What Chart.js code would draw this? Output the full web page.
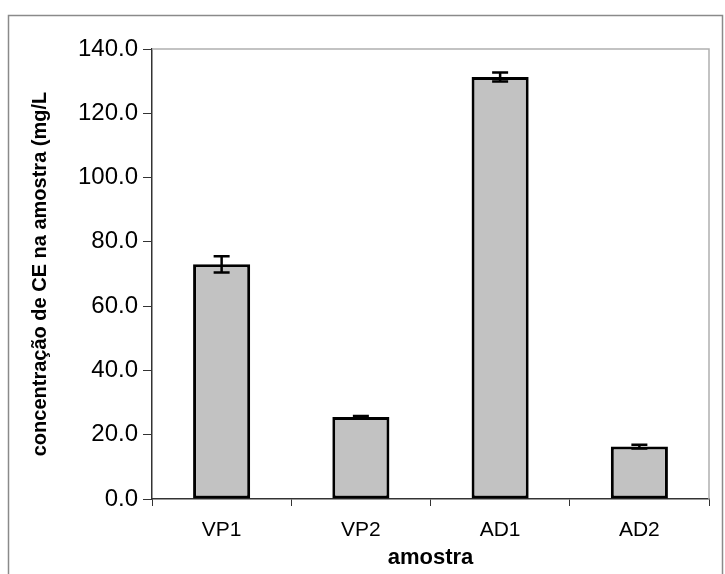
<!DOCTYPE html>
<html>
<head>
<meta charset="utf-8">
<script src="https://cdn.jsdelivr.net/npm/chart.js@4.4.1/dist/chart.umd.min.js"></script>
<style>
  html, body { margin: 0; padding: 0; background: #fff; }
  #wrap { width: 725px; height: 574px; }
</style>
</head>
<body>
<div id="wrap"><canvas id="chart" width="725" height="574"></canvas></div>
<script>
// Data
const samples = ['VP1', 'VP2', 'AD1', 'AD2'];
const concentration = [73.0, 25.5, 131.3, 16.3];
const errorValues = [2.5, 0.3, 1.4, 0.6];
const yTicks = [0, 20, 40, 60, 80, 100, 120, 140];

// Frame around the whole figure and the plot area (Excel style)
const framePlugin = {
  id: 'frame',
  beforeDraw(chart) {
    const ctx = chart.ctx;
    ctx.save();
    ctx.strokeStyle = '#8a8a8a';
    ctx.lineWidth = 1.5;
    ctx.beginPath();
    ctx.moveTo(8.5, 574);
    ctx.lineTo(8.5, 15.5);
    ctx.lineTo(722.5, 15.5);
    ctx.lineTo(722.5, 574);
    ctx.stroke();
    ctx.restore();
  },
  afterDatasetsDraw(chart) {
    const { ctx, chartArea } = chart;
    ctx.save();
    ctx.strokeStyle = '#b0b0b0';
    ctx.lineWidth = 1.5;
    ctx.beginPath();
    ctx.moveTo(chartArea.left, chartArea.top);
    ctx.lineTo(chartArea.right, chartArea.top);
    ctx.lineTo(chartArea.right, chartArea.bottom);
    ctx.stroke();
    ctx.restore();
  },
};

// Error bars drawn from errorValues through the y scale
const errorBarPlugin = {
  id: 'errorBars',
  afterDatasetsDraw(chart) {
    const ctx = chart.ctx;
    const yScale = chart.scales.y;
    const meta = chart.getDatasetMeta(0);
    ctx.save();
    ctx.strokeStyle = '#000';
    ctx.lineWidth = 2.5;
    meta.data.forEach((bar, i) => {
      const v = concentration[i];
      const e = errorValues[i];
      const yTop = yScale.getPixelForValue(v + e);
      const yBot = yScale.getPixelForValue(v - e);
      const x = bar.x;
      const half = 8;
      ctx.beginPath();
      ctx.moveTo(x, yTop);
      ctx.lineTo(x, yBot);
      ctx.moveTo(x - half, yTop);
      ctx.lineTo(x + half, yTop);
      ctx.moveTo(x - half, yBot);
      ctx.lineTo(x + half, yBot);
      ctx.stroke();
    });
    ctx.restore();
  },
};

const ctx = document.getElementById('chart').getContext('2d');
new Chart(ctx, {
  type: 'bar',
  data: {
    labels: samples,
    datasets: [
      {
        data: concentration,
        backgroundColor: '#c2c2c2',
        borderColor: '#000',
        borderWidth: 3,
        borderSkipped: false,
        categoryPercentage: 1.0,
        barPercentage: 0.41,
      },
    ],
  },
  options: {
    responsive: false,
    animation: false,
    layout: {
      padding: { top: 49, right: 16, left: 0, bottom: 0 },
    },
    plugins: {
      legend: { display: false },
      tooltip: { enabled: false },
    },
    scales: {
      x: {
        afterFit: (scale) => { scale.height = 75; },
        grid: {
          offset: true,
          drawOnChartArea: false,
          color: '#333',
          tickLength: 7,
        },
        border: { color: '#333', width: 1.5 },
        ticks: {
          color: '#000',
          padding: 12,
          font: { family: 'Liberation Sans, Arial', size: 21 },
        },
        title: {
          display: true,
          text: 'amostra',
          color: '#000',
          padding: { top: 0, bottom: 3 },
          font: { family: 'Liberation Sans, Arial', size: 22, weight: 'bold' },
        },
      },
      y: {
        min: 0,
        max: 140,
        afterFit: (scale) => { scale.width = 152; },
        afterBuildTicks: (scale) => {
          scale.ticks = yTicks.map((v) => ({ value: v }));
        },
        grid: {
          drawOnChartArea: false,
          color: '#333',
          tickLength: 9,
        },
        border: { color: '#333', width: 1.5 },
        ticks: {
          color: '#000',
          padding: 5,
          font: { family: 'Liberation Sans, Arial', size: 24 },
          callback: (v) => Number(v).toFixed(1),
        },
        title: {
          display: true,
          text: 'concentração de CE na amostra (mg/L',
          color: '#000',
          padding: { top: 28, bottom: 0 },
          font: { family: 'Liberation Sans, Arial', size: 20, weight: 'bold' },
        },
      },
    },
  },
  plugins: [framePlugin, errorBarPlugin],
});
</script>
</body>
</html>
